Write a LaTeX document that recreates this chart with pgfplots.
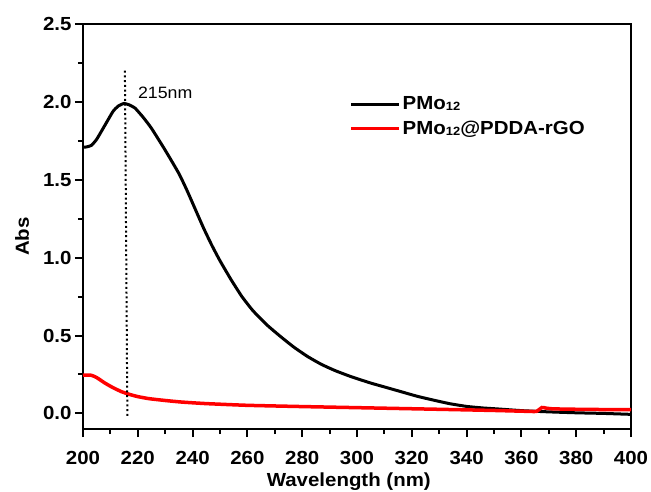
\documentclass[border=0pt]{standalone}
\usepackage{fontspec}
\setmainfont{Liberation Sans}[FakeStretch=1.08]
\usepackage{pgfplots}
\pgfplotsset{compat=1.18}
\definecolor{myred}{RGB}{255,0,0}
\newcommand{\sub}[1]{\raisebox{-0.8bp}{\fontsize{12}{12}\selectfont #1}}
\begin{document}
\begin{tikzpicture}
\useasboundingbox (-83bp,-63bp) rectangle (568bp,429bp);
\begin{axis}[
  scale only axis,
  width=548bp, height=405bp,
  xmin=200, xmax=400, ymin=-0.1, ymax=2.5,
  xtick={200,220,...,400}, minor x tick num=1,
  ytick={0,0.5,1.0,1.5,2.0,2.5}, minor y tick num=1,
  tick align=outside, xtick pos=bottom, ytick pos=left,
  major tick length=8bp, minor tick length=5bp,
  axis line style={line width=2bp},
  every tick/.style={line width=2bp, black},
  tick label style={font=\bfseries\fontsize{19}{22}\selectfont},
  /pgf/number format/assume math mode=true,
  y tick label style={/pgf/number format/.cd, fixed, fixed zerofill, precision=1},
  xticklabel shift=11bp,
  x tick label style={/pgf/number format/.cd, set thousands separator={}},
  xlabel={Wavelength (nm)}, ylabel={Abs},
  label style={font=\bfseries\fontsize{19}{22}\selectfont},
  xlabel style={at={(axis description cs:0.485,0)}, anchor=center, yshift=-52.7bp},
  ylabel style={at={(axis description cs:-0.111,0.475)}, anchor=center, rotate=0},
  legend style={draw=none, fill=none, at={(axis cs:297.1,2.047)}, anchor=north west,
    font=\bfseries\fontsize{19}{22}\selectfont, inner sep=0pt, row sep=6bp},
  legend cell align=left,
  legend image code/.code={\draw[#1] (0bp,0bp) -- (48bp,0bp);},
]
\addplot[black, line width=3bp, smooth, tension=0.3] coordinates {
(200,1.71) (201,1.71) (203,1.72) (205,1.76) (208,1.85) (211,1.94) (213,1.975) (215,1.99)
(217,1.98) (219,1.96) (222,1.90) (225,1.83) (230,1.69) (235,1.54) (238,1.43) (241,1.31)
(244,1.19) (247,1.08) (250,0.98) (254,0.86) (258,0.75) (262,0.66) (267,0.57) (272,0.495)
(277,0.425) (282,0.365) (287,0.315) (292,0.275) (298,0.235) (305,0.195) (310,0.17)
(316,0.14) (322,0.11) (328,0.085) (334,0.062) (340,0.045) (346,0.035) (352,0.028)
(360,0.018) (370,0.01) (380,0.004) (390,0.0) (400,-0.006)
};
\addlegendentry{PMo\sub{12}}
\addplot[myred, line width=3.5bp, smooth, tension=0.3] coordinates {
(200,0.245) (203,0.245) (205,0.23) (208,0.195) (211,0.165) (214,0.14) (217,0.122)
(220,0.108) (224,0.095) (230,0.083) (236,0.073) (245,0.063) (260,0.052) (280,0.044)
(300,0.037) (320,0.03) (334,0.025) (350,0.019) (363,0.013) (365.5,0.013) (367.5,0.038)
(369,0.034) (371,0.03) (375,0.028) (383,0.026) (390,0.025) (400,0.025)
};
\addlegendentry{PMo\sub{12}@PDDA-rGO}
\addplot[black, line width=2bp, dash pattern=on 2bp off 2.7bp] coordinates {(215.3,2.2) (216.2,-0.03)};
\node[anchor=west, font=\fontsize{16.5}{19}\selectfont] at (axis cs:218.8,2.06) {215nm};
\end{axis}
\end{tikzpicture}
\end{document}
